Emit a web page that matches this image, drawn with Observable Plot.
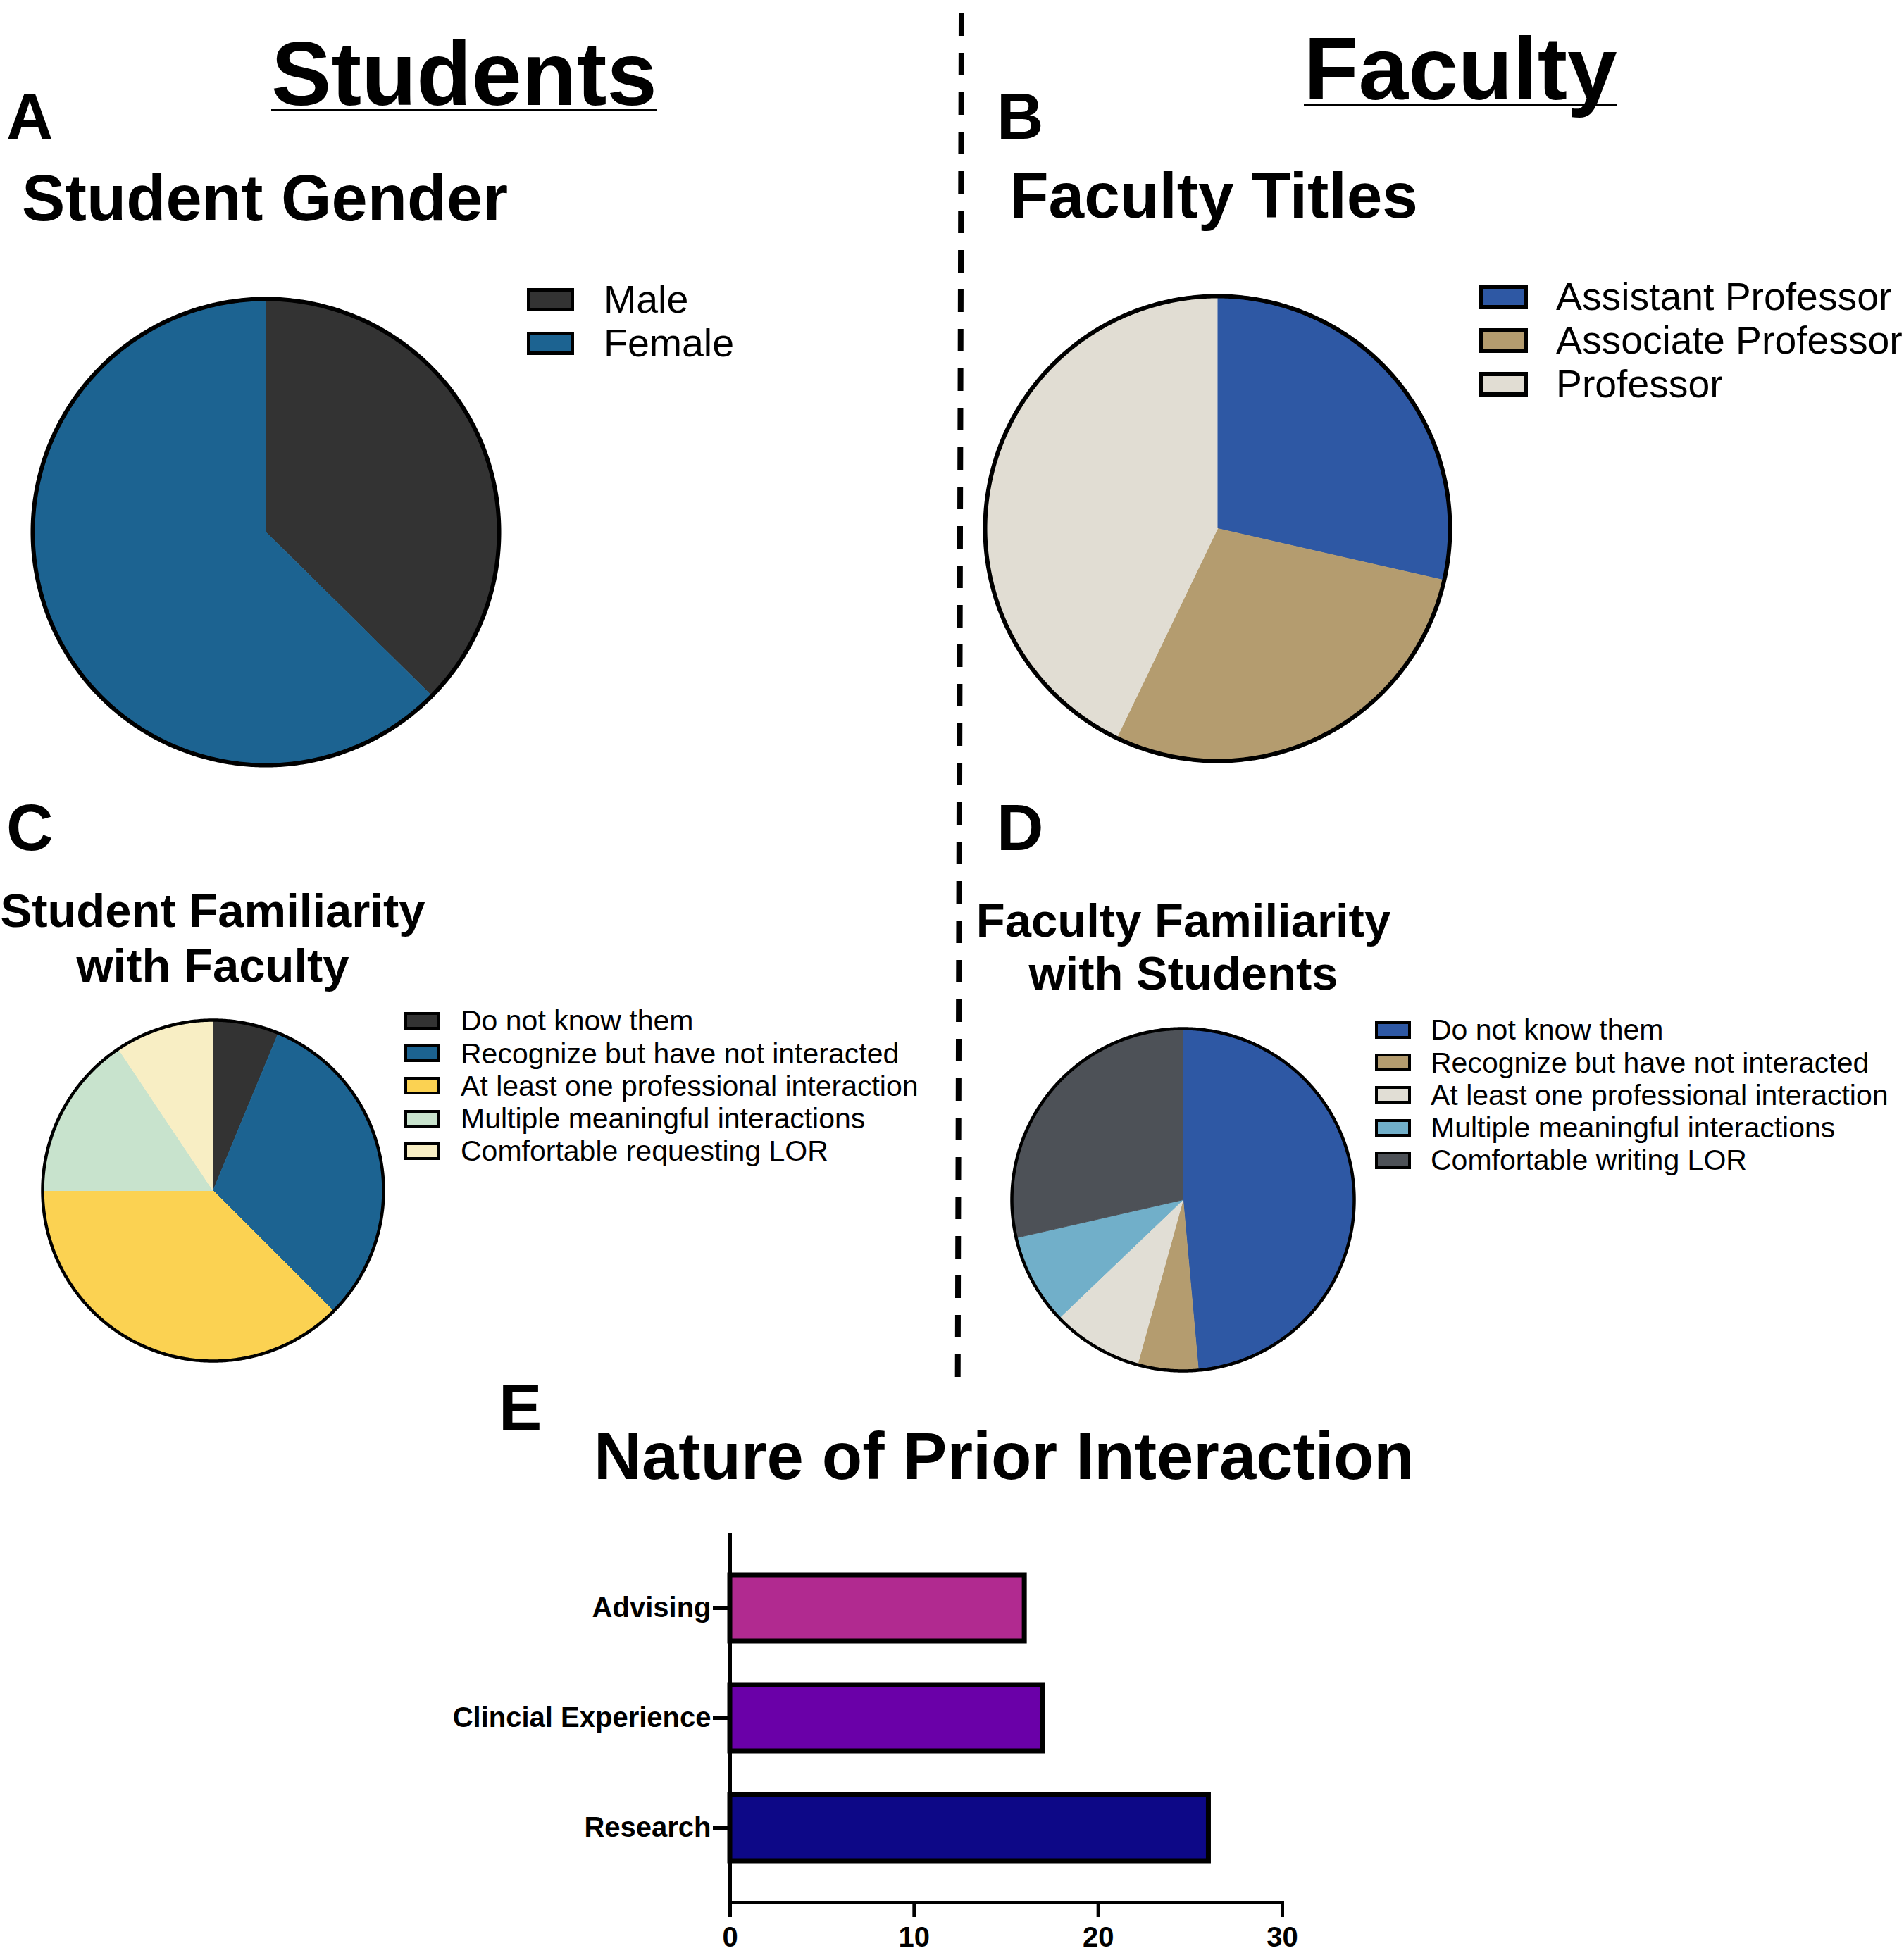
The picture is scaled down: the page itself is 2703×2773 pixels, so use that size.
<!DOCTYPE html>
<html>
<head>
<meta charset="utf-8">
<script src="https://cdn.jsdelivr.net/npm/d3@7"></script>
<script src="https://cdn.jsdelivr.net/npm/@observablehq/plot@0.6"></script>
<style>
html, body { margin: 0; padding: 0; background: #fff; }
body { width: 2703px; height: 2773px; overflow: hidden; position: relative;
       font-family: "Liberation Sans", Arial, sans-serif; color: #000; }
.abs { position: absolute; white-space: nowrap; line-height: 1; }
.sw { position: absolute; box-sizing: border-box; border-style: solid; border-color: #000; }
</style>
</head>
<body>
<script>
// ---------------- DATA ----------------
const genderLabels = ["Male", "Female"];
const genderValues = [37.4, 62.6];
const genderColors = ["#333333", "#1c6391"];

const titleLabels = ["Assistant Professor", "Associate Professor", "Professor"];
const titleValues = [20, 20, 30];
const titleColors = ["#2e58a4", "#b49c6f", "#e1ddd3"];

const studentFamLabels = ["Do not know them", "Recognize but have not interacted", "At least one professional interaction", "Multiple meaningful interactions", "Comfortable requesting LOR"];
const studentFamValues = [2, 10, 12, 5, 3];
const studentFamColors = ["#333333", "#1c6391", "#fbd252", "#c8e3cd", "#f8eec4"];

const facultyFamLabels = ["Do not know them", "Recognize but have not interacted", "At least one professional interaction", "Multiple meaningful interactions", "Comfortable writing LOR"];
const facultyFamValues = [17, 2, 3, 3, 10];
const facultyFamColors = ["#2e58a4", "#b49c6f", "#e1ded5", "#71afc9", "#4d5157"];

const interactionCategories = ["Advising", "Clincial Experience", "Research"];
const interactionValues = [16, 17, 26];
const interactionColors = ["#b12a90", "#6a00a8", "#0d0887"];
const interactionTicks = [0, 10, 20, 30];

// ---------------- HELPERS ----------------
const page = document.body;

function addText(txt, x, baseline, size, weight, anchor) {
  const d = document.createElement("div");
  d.className = "abs";
  d.textContent = txt;
  d.style.fontSize = size + "px";
  d.style.fontWeight = weight;
  d.style.top = (baseline - 0.8465 * size) + "px";
  d.style.left = x + "px";
  if (anchor === "middle") d.style.transform = "translateX(-50%)";
  page.appendChild(d);
  return d;
}

function addLegend(labels, colors, left, top, step, w, h, border, textX, size) {
  labels.forEach((lab, i) => {
    const s = document.createElement("div");
    s.className = "sw";
    s.style.left = left + "px";
    s.style.top = (top + i * step) + "px";
    s.style.width = w + "px";
    s.style.height = h + "px";
    s.style.borderWidth = border + "px";
    s.style.background = colors[i];
    page.appendChild(s);
    const center = top + i * step + h / 2;
    addText(lab, textX, center + 0.358 * size, size, "normal");
  });
}

function piePlot(labels, values, colors, cx, cy, r, strokeWidth) {
  const pad = 8;
  const arcs = d3.pie().sort(null).value(d => d)(values);
  const pts = [];
  arcs.forEach((a, i) => {
    const n = Math.max(2, Math.ceil((a.endAngle - a.startAngle) / (Math.PI / 360)));
    pts.push({label: labels[i], x: 0, y: 0});
    for (let k = 0; k <= n; k++) {
      const t = a.startAngle + (a.endAngle - a.startAngle) * k / n;
      pts.push({label: labels[i], x: Math.sin(t), y: Math.cos(t)});
    }
  });
  const ring = d3.range(0, 721).map(k => ({x: Math.sin(k * Math.PI / 360), y: Math.cos(k * Math.PI / 360)}));
  const size = 2 * r + 2 * pad;
  const svg = Plot.plot({
    width: size, height: size, margin: pad,
    x: {domain: [-1, 1], axis: null},
    y: {domain: [-1, 1], axis: null},
    color: {domain: labels, range: colors},
    marks: [
      Plot.line(pts, {x: "x", y: "y", z: "label", fill: "label", stroke: "label", strokeWidth: 1}),
      Plot.line(ring, {x: "x", y: "y", stroke: "black", strokeWidth})
    ]
  });
  const holder = document.createElement("div");
  holder.style.position = "absolute";
  holder.style.left = (cx - r - pad) + "px";
  holder.style.top = (cy - r - pad) + "px";
  holder.appendChild(svg);
  page.appendChild(holder);
}

// ---------------- HEADERS ----------------
const hs = addText("Students", 385, 149, 128, "bold");
const hf = addText("Faculty", 1851, 142, 127, "bold");
[hs, hf].forEach(el => {
  el.style.textDecoration = "underline";
  el.style.textDecorationThickness = "3px";
  el.style.textUnderlineOffset = "6px";
  el.style.textDecorationSkipInk = "none";
});

addText("A", 9, 197, 92, "bold");
addText("B", 1415, 197, 92, "bold");
addText("Student Gender", 31, 313, 92, "bold");
addText("Faculty Titles", 1433, 309, 91, "bold");

addText("C", 9, 1207, 92, "bold");
addText("D", 1415, 1207, 92, "bold");
addText("Student Familiarity", 302, 1316, 67, "bold", "middle");
addText("with Faculty", 302, 1394, 67, "bold", "middle");
addText("Faculty Familiarity", 1680, 1330, 67, "bold", "middle");
addText("with Students", 1680, 1405, 67, "bold", "middle");

addText("E", 708, 2030, 92, "bold");
addText("Nature of Prior Interaction", 843, 2101, 94, "bold");

// ---------------- PIES ----------------
piePlot(genderLabels, genderValues, genderColors, 377, 755, 331, 6);
piePlot(titleLabels, titleValues, titleColors, 1728, 750, 330, 6);
piePlot(studentFamLabels, studentFamValues, studentFamColors, 302, 1690, 242, 4.5);
piePlot(facultyFamLabels, facultyFamValues, facultyFamColors, 1679, 1703, 243, 4.5);

// ---------------- LEGENDS ----------------
addLegend(genderLabels, genderColors, 748, 409, 62, 67, 33, 5, 857, 55.5);
addLegend(titleLabels, titleColors, 2099, 404, 62, 70, 35, 6, 2209, 55.3);
addLegend(studentFamLabels, studentFamColors, 574, 1437, 46.2, 51, 25, 4, 654, 41);
addLegend(facultyFamLabels, facultyFamColors, 1952, 1450, 46.2, 51, 25, 4, 2031, 41);

// ---------------- BAR CHART ----------------
const barData = interactionCategories.map((c, i) => ({category: c, value: interactionValues[i]}));
const bar = Plot.plot({
  width: 1300, height: 623,
  marginLeft: 436, marginRight: 80, marginTop: 26, marginBottom: 72,
  style: {fontFamily: "'Liberation Sans', Arial, sans-serif", fontSize: "40px", fontWeight: "bold", color: "black", background: "transparent"},
  x: {domain: [0, 30]},
  y: {domain: interactionCategories, paddingInner: 0.4, paddingOuter: 0.372},
  color: {domain: interactionCategories, range: interactionColors},
  marks: [
    Plot.barX(barData, {x: "value", y: "category", fill: "category", stroke: "black", strokeWidth: 7}),
    Plot.ruleX([0], {stroke: "black", strokeWidth: 5}),
    Plot.frame({anchor: "bottom", stroke: "black", strokeWidth: 5}),
    Plot.axisX({ticks: interactionTicks, tickSize: 21, tickPadding: 13, strokeWidth: 5, label: null}),
    Plot.axisY({tickSize: 24, tickPadding: 3, strokeWidth: 5, label: null})
  ]
});
const barHolder = document.createElement("div");
barHolder.style.position = "absolute";
barHolder.style.left = "600px";
barHolder.style.top = "2150px";
barHolder.appendChild(bar);
page.appendChild(barHolder);

// ---------------- DASHED SEPARATOR ----------------
const ns = "http://www.w3.org/2000/svg";
const sep = document.createElementNS(ns, "svg");
sep.setAttribute("width", 40);
sep.setAttribute("height", 1980);
sep.style.position = "absolute";
sep.style.left = "1340px";
sep.style.top = "0px";
const ln = document.createElementNS(ns, "line");
ln.setAttribute("x1", 25); ln.setAttribute("y1", 19);
ln.setAttribute("x2", 19.7); ln.setAttribute("y2", 1957);
ln.setAttribute("stroke", "black");
ln.setAttribute("stroke-width", 8);
ln.setAttribute("stroke-dasharray", "32 24");
sep.appendChild(ln);
page.appendChild(sep);
</script>
</body>
</html>
